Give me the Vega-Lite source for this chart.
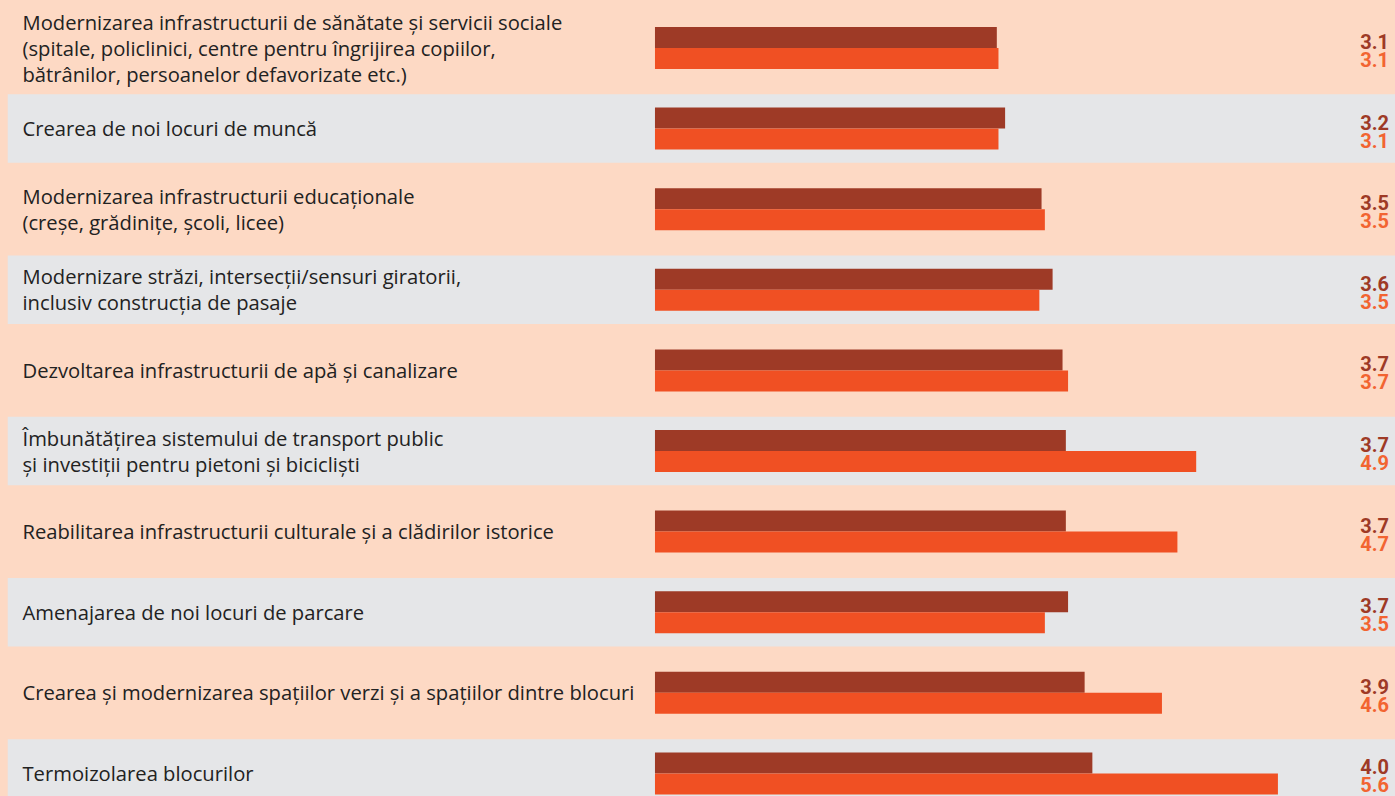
{
  "$schema": "https://vega.github.io/schema/vega-lite/v6.json",
  "width": 1395,
  "height": 796,
  "padding": 0,
  "autosize": {"type": "none"},
  "background": "#FDD9C4",
  "config": {"view": {"stroke": null}},
  "data": {"values": [
    {"row": 1, "task": "Modernizarea infrastructurii de sănătate și servicii sociale|(spitale, policlinici, centre pentru îngrijirea copiilor,|bătrânilor, persoanelor defavorizate etc.)", "series": "a", "value": 3.095},
    {"row": 1, "task": "Modernizarea infrastructurii de sănătate și servicii sociale|(spitale, policlinici, centre pentru îngrijirea copiilor,|bătrânilor, persoanelor defavorizate etc.)", "series": "b", "value": 3.11},
    {"row": 2, "task": "Crearea de noi locuri de muncă", "series": "a", "value": 3.17},
    {"row": 2, "task": "Crearea de noi locuri de muncă", "series": "b", "value": 3.11},
    {"row": 3, "task": "Modernizarea infrastructurii educaționale|(creșe, grădinițe, școli, licee)", "series": "a", "value": 3.5},
    {"row": 3, "task": "Modernizarea infrastructurii educaționale|(creșe, grădinițe, școli, licee)", "series": "b", "value": 3.53},
    {"row": 4, "task": "Modernizare străzi, intersecții/sensuri giratorii,|inclusiv construcția de pasaje", "series": "a", "value": 3.6},
    {"row": 4, "task": "Modernizare străzi, intersecții/sensuri giratorii,|inclusiv construcția de pasaje", "series": "b", "value": 3.48},
    {"row": 5, "task": "Dezvoltarea infrastructurii de apă și canalizare", "series": "a", "value": 3.69},
    {"row": 5, "task": "Dezvoltarea infrastructurii de apă și canalizare", "series": "b", "value": 3.74},
    {"row": 6, "task": "Îmbunătățirea sistemului de transport public|și investiții pentru pietoni și bicicliști", "series": "a", "value": 3.72},
    {"row": 6, "task": "Îmbunătățirea sistemului de transport public|și investiții pentru pietoni și bicicliști", "series": "b", "value": 4.9},
    {"row": 7, "task": "Reabilitarea infrastructurii culturale și a clădirilor istorice", "series": "a", "value": 3.72},
    {"row": 7, "task": "Reabilitarea infrastructurii culturale și a clădirilor istorice", "series": "b", "value": 4.73},
    {"row": 8, "task": "Amenajarea de noi locuri de parcare", "series": "a", "value": 3.74},
    {"row": 8, "task": "Amenajarea de noi locuri de parcare", "series": "b", "value": 3.53},
    {"row": 9, "task": "Crearea și modernizarea spațiilor verzi și a spațiilor dintre blocuri", "series": "a", "value": 3.89},
    {"row": 9, "task": "Crearea și modernizarea spațiilor verzi și a spațiilor dintre blocuri", "series": "b", "value": 4.59},
    {"row": 10, "task": "Termoizolarea blocurilor", "series": "a", "value": 3.96},
    {"row": 10, "task": "Termoizolarea blocurilor", "series": "b", "value": 5.64}
  ]},
  "encoding": {
    "y": {
      "field": "task",
      "type": "nominal",
      "sort": null,
      "scale": {"range": [7.7, 813.7], "paddingInner": 0, "paddingOuter": 0},
      "axis": {
        "title": null,
        "domain": false,
        "ticks": false,
        "tickSize": 0,
        "grid": false,
        "zindex": 1,
        "labelAlign": "left",
        "labelBaseline": "middle",
        "labelPadding": -22,
        "labelOffset": {
          "condition": [
            {"test": "indexof(datum.value, '|') < 0", "value": 1.5},
            {"test": "length(split(datum.value, '|')) == 3", "value": -24.5}
          ],
          "value": -11.5
        },
        "labelFont": "Open Sans",
        "labelFontSize": 20.2,
        "labelColor": "#222222",
        "labelLimit": 900,
        "labelLineHeight": 26,
        "labelExpr": "split(datum.label, '|')"
      }
    }
  },
  "layer": [
    {
      "transform": [{"filter": "datum.series == 'a'"}],
      "mark": {"type": "bar", "height": {"band": 0.85}},
      "encoding": {
        "x": {"datum": -5.86, "type": "quantitative", "scale": {"domain": [-5.93, 6.7], "nice": false, "zero": false}, "axis": null},
        "x2": {"datum": 6.7},
        "color": {"condition": {"test": "datum.row % 2 == 0", "value": "#E5E6E8"}, "value": "transparent"}
      }
    },
    {
      "mark": {"type": "bar"},
      "encoding": {
        "x": {"field": "value", "type": "quantitative", "scale": {"domain": [-5.93, 6.7], "nice": false, "zero": false}, "axis": null},
        "yOffset": {"field": "series", "type": "nominal", "scale": {"paddingInner": 0, "paddingOuter": 0.92}},
        "color": {"field": "series", "type": "nominal", "scale": {"domain": ["a", "b"], "range": ["#9E3A26", "#F05023"]}, "legend": null}
      }
    },
    {
      "transform": [{"filter": "datum.series == 'a'"}],
      "mark": {"type": "text", "align": "right", "baseline": "alphabetic", "dy": 1, "font": "Roboto", "fontWeight": "bold", "fontSize": 20, "color": "#9E3A26"},
      "encoding": {
        "x": {"datum": 6.645, "type": "quantitative", "scale": {"domain": [-5.93, 6.7], "nice": false, "zero": false}, "axis": null},
        "text": {"field": "value", "type": "quantitative", "format": ".1f"}
      }
    },
    {
      "transform": [{"filter": "datum.series == 'b'"}],
      "mark": {"type": "text", "align": "right", "baseline": "alphabetic", "dy": 19, "font": "Roboto", "fontWeight": "bold", "fontSize": 20, "color": "#F26431"},
      "encoding": {
        "x": {"datum": 6.645, "type": "quantitative", "scale": {"domain": [-5.93, 6.7], "nice": false, "zero": false}, "axis": null},
        "text": {"field": "value", "type": "quantitative", "format": ".1f"}
      }
    }
  ]
}
